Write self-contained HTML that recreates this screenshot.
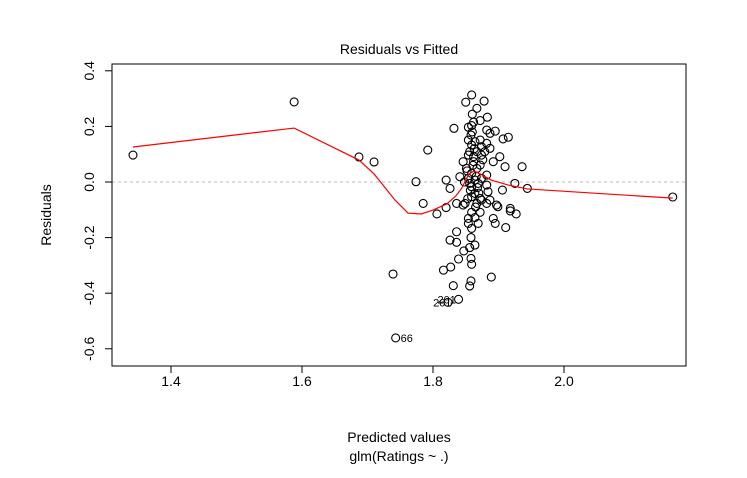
<!DOCTYPE html>
<html><head><meta charset="utf-8"><style>
body{margin:0;background:#fff}
svg text{font-family:"Liberation Sans",sans-serif;fill:#000}
</style></head><body>
<svg id="c" width="747" height="473">
<text x="399" y="54" font-size="14" text-anchor="middle">Residuals vs Fitted</text>
<text x="399" y="442" font-size="14" text-anchor="middle">Predicted values</text>
<text x="399" y="461" font-size="14" text-anchor="middle">glm(Ratings ~ .)</text>
<text transform="translate(51,215) rotate(-90)" font-size="14" text-anchor="middle">Residuals</text>
<g id="plot"></g>
</svg>
<script>
const xTicks=[1.4,1.6,1.8,2.0];
const xTickLabels=["1.4","1.6","1.8","2.0"];
const yTicks=[0.4,0.2,0.0,-0.2,-0.4,-0.6];
const yTickLabels=["0.4","0.2","0.0","-0.2","-0.4","-0.6"];
const fitted=[1.342,1.588,1.687,1.710,1.739,1.743,2.166,
1.859,1.850,1.878,1.867,1.860,1.883,1.872,1.862,1.832,1.854,1.859,1.882,1.895,1.887,1.858,1.915,1.907,1.854,1.872,1.864,1.859,1.882,1.874,1.887,1.792,1.856,1.867,1.879,1.862,1.854,1.874,1.902,1.846,1.862,1.892,1.872,1.910,1.936,1.851,1.867,1.859,1.882,1.841,1.854,1.864,1.874,1.774,1.820,1.856,1.869,1.882,1.925,1.826,1.859,1.906,1.944,1.864,1.884,1.859,1.872,1.887,1.836,1.849,1.867,1.882,1.897,1.785,1.820,1.918,
1.806,1.846,1.874,1.899,1.918,1.927,1.859,1.872,1.854,1.864,1.892,1.854,1.869,1.859,1.895,1.911,1.836,1.826,1.836,1.858,1.864,1.856,1.847,1.839,1.858,1.859,1.827,1.816,1.889,1.858,1.856,1.831,1.839,1.823,
1.852,1.861,1.866,1.857,1.870,1.853,1.863,1.876,1.848,1.868,1.860,1.865];
const residuals=[0.097,0.288,0.090,0.072,-0.331,-0.561,-0.054,
0.313,0.287,0.291,0.265,0.244,0.233,0.221,0.215,0.193,0.197,0.203,0.187,0.183,0.175,0.169,0.161,0.155,0.151,0.151,0.145,0.133,0.139,0.127,0.121,0.115,0.109,0.109,0.109,0.091,0.097,0.097,0.091,0.073,0.073,0.073,0.061,0.055,0.055,0.049,0.049,0.031,0.025,0.019,0.013,0.007,0.013,0.001,0.007,-0.005,-0.005,-0.011,-0.005,-0.023,-0.017,-0.029,-0.023,-0.041,-0.035,-0.053,-0.059,-0.065,-0.077,-0.077,-0.077,-0.077,-0.083,-0.077,-0.092,-0.095,
-0.115,-0.083,-0.065,-0.089,-0.104,-0.115,-0.109,-0.109,-0.131,-0.128,-0.131,-0.149,-0.149,-0.167,-0.149,-0.164,-0.179,-0.209,-0.217,-0.200,-0.227,-0.236,-0.248,-0.277,-0.275,-0.296,-0.306,-0.317,-0.342,-0.356,-0.374,-0.373,-0.422,-0.433,
0.040,0.060,0.020,-0.030,-0.040,-0.060,0.120,0.080,0.000,-0.020,0.180,-0.090];
const smoothX=[1.342,1.588,1.687,1.710,1.742,1.762,1.782,1.800,1.821,1.835,1.844,1.850,1.855,1.863,1.872,1.889,1.915,1.944,2.166];
const smoothY=[0.126,0.194,0.079,0.029,-0.065,-0.112,-0.115,-0.101,-0.079,-0.050,-0.022,0.007,0.029,0.040,0.029,0.007,-0.011,-0.025,-0.058];
const outlierLabels=[{x:1.743,y:-0.561,t:"66",dx:5},{x:1.823,y:-0.433,t:"261",dx:-15},{x:1.839,y:-0.422,t:"201",dx:-21}];

const sx=v=>171+(v-1.4)*655, sy=v=>182-v*278;
const NS="http://www.w3.org/2000/svg", g=document.getElementById('plot');
function mk(t,a){const e=document.createElementNS(NS,t);for(const k in a)e.setAttribute(k,a[k]);g.appendChild(e);return e;}
let e=mk('line',{x1:112,x2:686,y1:sy(0),y2:sy(0),stroke:'#bbb','stroke-dasharray':'3,3'});


xTicks.forEach((v,i)=>{
 let l=mk('line',{x1:sx(v),x2:sx(v),y1:366,y2:373,stroke:'#000'});
 
 
 let t=mk('text',{x:sx(v),y:386,'font-size':14,'text-anchor':'middle'});t.textContent=xTickLabels[i];
 
 
});
yTicks.forEach((v,i)=>{
 let l=mk('line',{x1:105,x2:112,y1:sy(v),y2:sy(v),stroke:'#000'});
 
 
 let t=mk('text',{transform:`translate(94,${sy(v)}) rotate(-90)`,'font-size':14,'text-anchor':'middle'});t.textContent=yTickLabels[i];
 
 
});
fitted.forEach((v,i)=>{
 let c=mk('circle',{cx:sx(v),cy:sy(residuals[i]),r:4,fill:'none',stroke:'#000','stroke-width':1.1});
 
 
});
let p=mk('polyline',{points:smoothX.map((v,i)=>sx(v)+','+sy(smoothY[i])).join(' '),fill:'none',stroke:'#f00','stroke-width':1.2});


outlierLabels.forEach(o=>{
 let t=mk('text',{x:sx(o.x)+o.dx,y:sy(o.y)+4,'font-size':11});t.textContent=o.t;
 
 
});
let b=mk('rect',{x:112,y:64,width:574,height:302,fill:'none',stroke:'#000'});


</script>
</body></html>
